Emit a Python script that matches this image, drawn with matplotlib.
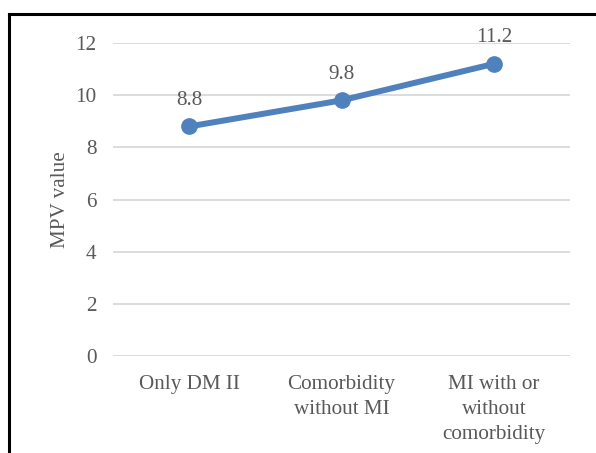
import matplotlib
matplotlib.use("Agg")
import matplotlib.pyplot as plt
from matplotlib.lines import Line2D

categories = ["Only DM II", "Comorbidity\nwithout MI", "MI with or\nwithout\ncomorbidity"]
mpv_values = [8.8, 9.8, 11.2]
y_ticks = [0, 2, 4, 6, 8, 10, 12]

plt.rcParams['font.family'] = ['Liberation Serif', 'DejaVu Serif']
text_color = '#595959'
line_color = '#4F81BD'
fs = 15.2

fig = plt.figure(figsize=(5.96, 4.53), dpi=100)
ax = fig.add_axes([0.1896, 0.2141, 0.7668, 0.691])

x = list(range(len(categories)))
ax.plot(x, mpv_values, color=line_color, linewidth=4.3, marker='o',
        markersize=11, solid_capstyle='round', zorder=3)

for xi, v in zip(x, mpv_values):
    ax.annotate(f"{v}", (xi, v), xytext=(0, 12), textcoords='offset points',
                ha='center', va='bottom', fontsize=fs, color=text_color)

ax.set_xlim(-0.5, len(categories) - 0.5)
ax.set_ylim(0, 12)
ax.set_yticks(y_ticks)
ax.set_xticks(x)
ax.set_xticklabels(categories, linespacing=1.4)
ax.tick_params(axis='both', length=0, labelsize=fs, colors=text_color)
ax.tick_params(axis='x', pad=14)
ax.tick_params(axis='y', pad=12)
ax.grid(axis='y', color='#D9D9D9', linewidth=1.3)
ax.set_axisbelow(True)
for s in ax.spines.values():
    s.set_visible(False)

ax.set_ylabel("MPV value", fontsize=fs, color=text_color, labelpad=4)

# outer frame (left and top only, picture is cropped)
fig.add_artist(Line2D([8.5 / 596, 8.5 / 596], [0, 1 - 14 / 453], color='black', linewidth=2.2))
fig.add_artist(Line2D([8.5 / 596, 1], [1 - 14 / 453, 1 - 14 / 453], color='black', linewidth=2.2))

fig.savefig("out.png", dpi=100)
